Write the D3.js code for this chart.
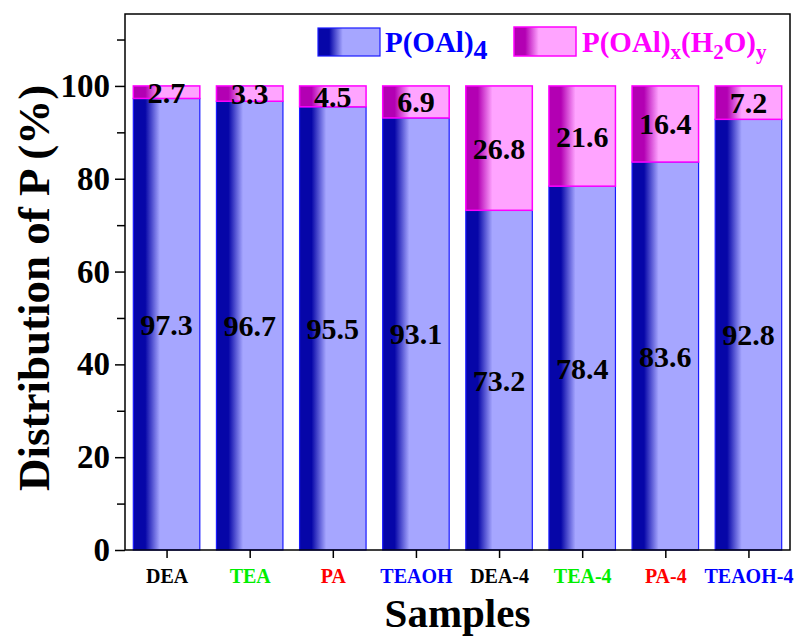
<!DOCTYPE html>
<html>
<head>
<meta charset="utf-8">
<script src="https://cdn.jsdelivr.net/npm/d3@7"></script>
<style>
  html, body { margin: 0; padding: 0; background: #fff; }
  svg { display: block; }
</style>
</head>
<body>
<svg id="chart" width="803" height="639"></svg>
<script>
// Samples and their phosphorus distribution (%)
const samples = ["DEA", "TEA", "PA", "TEAOH", "DEA-4", "TEA-4", "PA-4", "TEAOH-4"];
const sampleColors = ["#000000", "#00ee00", "#ff0000", "#0000ff", "#000000", "#00ee00", "#ff0000", "#0000ff"];
const pOAl4 = [97.3, 96.7, 95.5, 93.1, 73.2, 78.4, 83.6, 92.8];
const pOAlH2O = [2.7, 3.3, 4.5, 6.9, 26.8, 21.6, 16.4, 7.2];
const yMajorTicks = [0, 20, 40, 60, 80, 100];
const yMinorTicks = [10, 30, 50, 70, 90, 110];

const svg = d3.select("#chart");
const margin = { left: 125, right: 13, top: 14, bottom: 89 };
const W = 803, H = 639;
const innerW = W - margin.left - margin.right;
const innerH = H - margin.top - margin.bottom;
const font = "'Liberation Serif', 'Times New Roman', serif";

const x = d3.scaleLinear().domain([-0.5, samples.length - 0.5]).range([margin.left, W - margin.right]);
const y = d3.scaleLinear().domain([0, 115.5]).range([H - margin.bottom, margin.top]);
const barW = (x(1) - x(0)) * 0.8;

// Gradients: dark stripe on the left fading into a light fill
const defs = svg.append("defs");
function grad(id, dark, light) {
  const g = defs.append("linearGradient").attr("id", id).attr("x1", "0").attr("x2", "1").attr("y1", "0").attr("y2", "0");
  g.append("stop").attr("offset", "0").attr("stop-color", dark);
  g.append("stop").attr("offset", "0.18").attr("stop-color", dark);
  g.append("stop").attr("offset", "0.4").attr("stop-color", light);
  g.append("stop").attr("offset", "1").attr("stop-color", light);
}
grad("gBlue", "#0606a8", "#a6a6ff");
grad("gPink", "#b300b3", "#ffa4ff");

// Lower segment: P(OAl)4
svg.append("g").selectAll("rect").data(pOAl4).join("rect")
  .attr("x", (d, i) => x(i) - barW / 2)
  .attr("y", d => y(d))
  .attr("width", barW)
  .attr("height", d => y(0) - y(d))
  .attr("fill", "url(#gBlue)")
  .attr("stroke", "#1a1aff")
  .attr("stroke-width", 1.2);

// Upper segment: P(OAl)x(H2O)y
svg.append("g").selectAll("rect").data(pOAlH2O).join("rect")
  .attr("x", (d, i) => x(i) - barW / 2)
  .attr("y", (d, i) => y(pOAl4[i] + d))
  .attr("width", barW)
  .attr("height", (d, i) => y(pOAl4[i]) - y(pOAl4[i] + d))
  .attr("fill", "url(#gPink)")
  .attr("stroke", "#ff00ff")
  .attr("stroke-width", 1.5);

// Value labels
const labelFont = `bold 30px ${font}`;
svg.append("g").selectAll("text").data(pOAl4).join("text")
  .attr("x", (d, i) => x(i))
  .attr("y", d => y(d / 2))
  .attr("dy", "0.35em")
  .attr("text-anchor", "middle")
  .style("font", labelFont)
  .text(d => d.toFixed(1));

svg.append("g").selectAll("text").data(pOAlH2O).join("text")
  .attr("x", (d, i) => x(i))
  .attr("y", (d, i) => y(pOAl4[i] + d / 2))
  .attr("dy", "0.35em")
  .attr("text-anchor", "middle")
  .style("font", labelFont)
  .text(d => d.toFixed(1));

// Frame
svg.append("rect")
  .attr("x", margin.left).attr("y", margin.top)
  .attr("width", innerW).attr("height", innerH)
  .attr("fill", "none").attr("stroke", "#000").attr("stroke-width", 1.5);

// Y axis
const yAxis = svg.append("g").attr("transform", `translate(${margin.left},0)`)
  .call(d3.axisLeft(y).tickValues(yMajorTicks).tickSize(10).tickPadding(5));
yAxis.select(".domain").remove();
yAxis.selectAll("line").attr("stroke-width", 1.5);
yAxis.selectAll("text").style("font", `bold 33px ${font}`).attr("fill", "#000");

const yMinor = svg.append("g").attr("transform", `translate(${margin.left},0)`)
  .call(d3.axisLeft(y).tickValues(yMinorTicks).tickSize(8).tickFormat(""));
yMinor.select(".domain").remove();
yMinor.selectAll("line").attr("stroke-width", 1.5);

// X axis
const xAxis = svg.append("g").attr("transform", `translate(0,${H - margin.bottom})`)
  .call(d3.axisBottom(x).tickValues(d3.range(samples.length)).tickSize(8).tickPadding(11).tickFormat(i => samples[i]));
xAxis.select(".domain").remove();
xAxis.selectAll("line").attr("stroke-width", 1.5);
xAxis.selectAll("text")
  .style("font", `bold 20px ${font}`)
  .attr("fill", (d, i) => sampleColors[i]);

// Axis titles
svg.append("text")
  .attr("x", x(3.5)).attr("y", 627)
  .attr("text-anchor", "middle")
  .style("font", `bold 41px ${font}`)
  .text("Samples");

svg.append("text")
  .attr("transform", `translate(49,${y(56.5)}) rotate(-90)`)
  .attr("text-anchor", "middle")
  .style("font", `bold 45px ${font}`)
  .text("Distribution of P (%)");

// Legend
const legend = svg.append("g");
legend.append("rect").attr("x", 318).attr("y", 28).attr("width", 62).attr("height", 28)
  .attr("fill", "url(#gBlue)").attr("stroke", "#1a1aff").attr("stroke-width", 1.2);
const t1 = legend.append("text").attr("x", 385).attr("y", 52)
  .style("font", `bold 29px ${font}`).attr("fill", "#0000ff");
t1.append("tspan").text("P(OAl)");
t1.append("tspan").attr("dy", 7).style("font-size", "28px").text("4");

legend.append("rect").attr("x", 514).attr("y", 27).attr("width", 62).attr("height", 29)
  .attr("fill", "url(#gPink)").attr("stroke", "#ff00ff").attr("stroke-width", 1.5);
const t2 = legend.append("text").attr("x", 582).attr("y", 52)
  .style("font", `bold 29px ${font}`).attr("fill", "#ff00ff");
t2.append("tspan").text("P(OAl)");
t2.append("tspan").attr("dy", 7).style("font-size", "21px").text("x");
t2.append("tspan").attr("dy", -7).text("(H");
t2.append("tspan").attr("dy", 7).style("font-size", "21px").text("2");
t2.append("tspan").attr("dy", -7).text("O)");
t2.append("tspan").attr("dy", 7).style("font-size", "21px").text("y");
</script>
</body>
</html>
